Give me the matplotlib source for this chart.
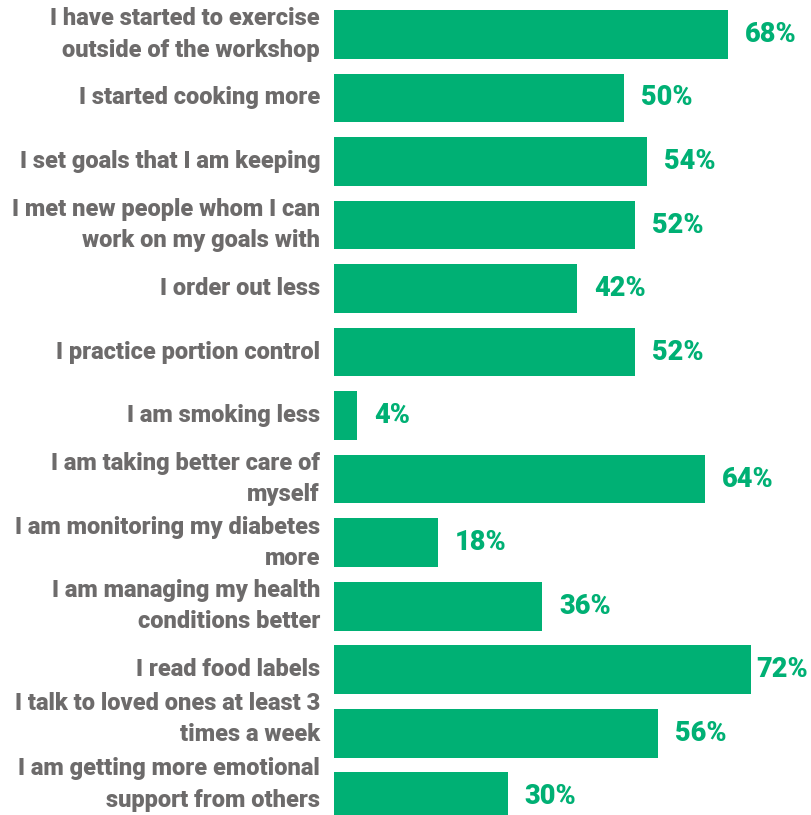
import matplotlib
matplotlib.use("Agg")
import matplotlib.pyplot as plt

statements = [
    "I have started to exercise\noutside of the workshop",
    "I started cooking more",
    "I set goals that I am keeping",
    "I met new people whom I can\nwork on my goals with",
    "I order out less",
    "I practice portion control",
    "I am smoking less",
    "I am taking better care of\nmyself",
    "I am monitoring my diabetes\nmore",
    "I am managing my health\nconditions better",
    "I read food labels",
    "I talk to loved ones at least 3\ntimes a week",
    "I am getting more emotional\nsupport from others",
]
percent = [68, 50, 54, 52, 42, 52, 4, 64, 18, 36, 72, 56, 30]

green = "#00B074"
grey = "#6D6B6B"

W, H = 811, 815
x0 = 334          # left edge of the bars in pixels
px = 5.79         # pixels per percentage point

fig = plt.figure(figsize=(W / 100, H / 100), dpi=100)
ax = fig.add_axes([x0 / W, 0, 1 - x0 / W, 1])

pos = list(range(len(percent)))
ax.barh(pos, percent, height=0.77, color=green)
ax.set_xlim(0, (W - x0) / px)
ax.set_ylim(12.29, -0.543)
ax.axis("off")

right_limit = (808 - x0) / px
# small upward nudge for the bottom two wrapped labels
nudge = {11: -0.22, 12: -0.19}
for i, (txt, v) in enumerate(zip(statements, percent)):
    ax.text(-14 / px, i + nudge.get(i, 0), txt, ha="right", va="center",
            fontsize=17, fontweight="black", color=grey, family="Roboto",
            linespacing=1.45)
    # value label sits after the bar, pulled back if it would run off the edge
    if v + (17 + 54) / px > right_limit:
        x, ha = right_limit, "right"
    else:
        x, ha = v + 17 / px, "left"
    ax.text(x, i, f"{v}%", ha=ha, va="center",
            fontsize=19.5, fontweight="black", color=green, family="Roboto")

fig.savefig("out.png", dpi=100)
